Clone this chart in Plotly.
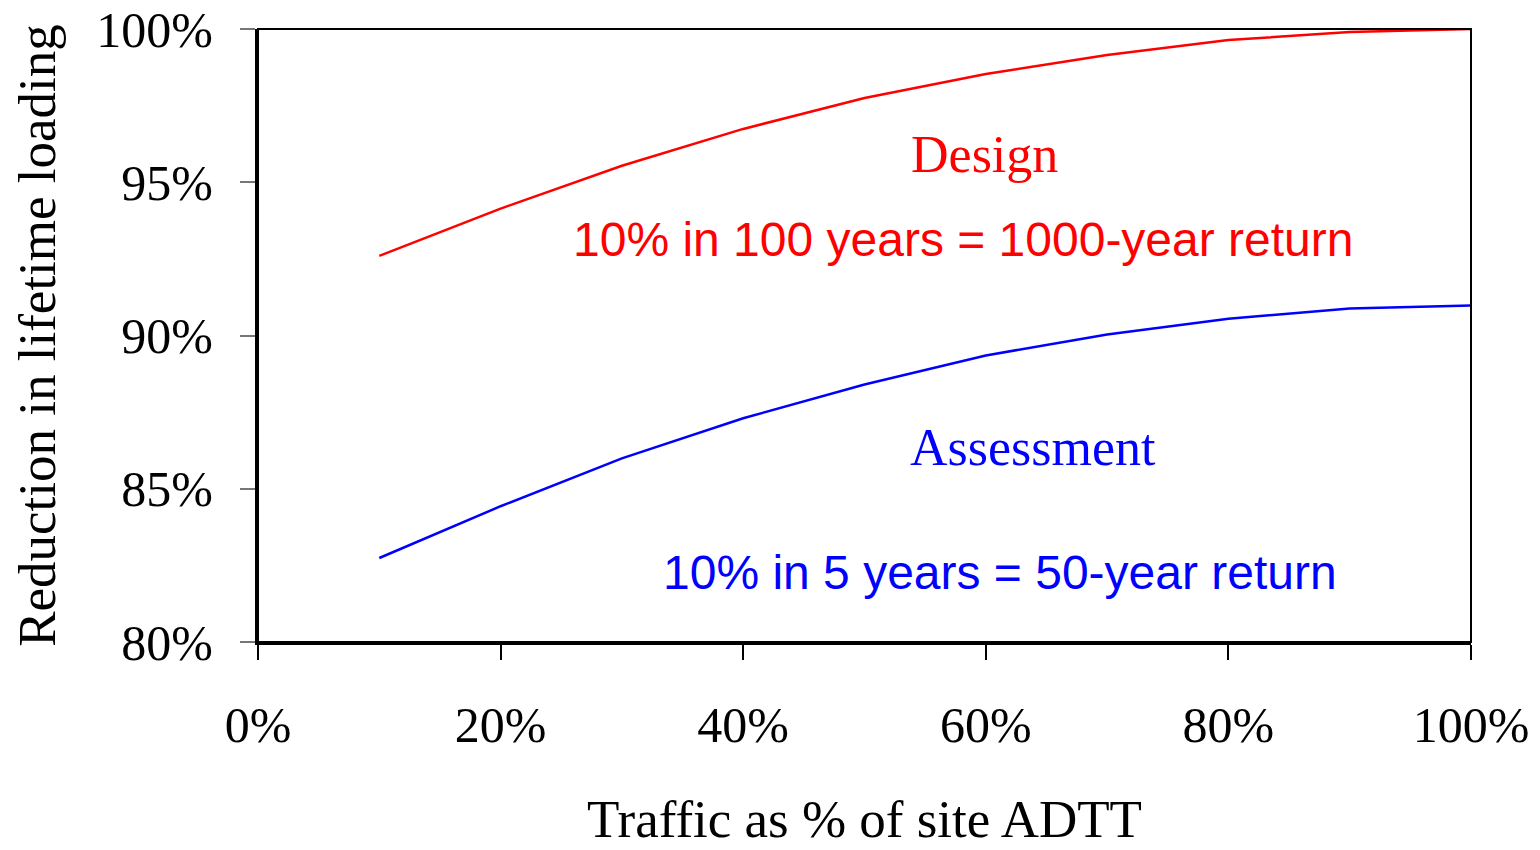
import plotly.graph_objects as go

traffic = [0.1, 0.2, 0.3, 0.4, 0.5, 0.6, 0.7, 0.8, 0.9, 1.0]
design = [0.926, 0.9414, 0.9554, 0.9674, 0.9775, 0.9853, 0.9915, 0.9964, 0.9990, 1.0000]
assessment = [0.8274, 0.8443, 0.8599, 0.8730, 0.8840, 0.8935, 0.9003, 0.9055, 0.9088, 0.9098]

x_ticks = [0, 0.2, 0.4, 0.6, 0.8, 1.0]
x_ticklabels = ["0%", "20%", "40%", "60%", "80%", "100%"]
y_ticks = [0.80, 0.85, 0.90, 0.95, 1.00]
y_ticklabels = ["80%", "85%", "90%", "95%", "100%"]

serif = "Liberation Serif, Times New Roman, serif"
sans = "Liberation Sans, Arial, sans-serif"

fig = go.Figure()
fig.add_trace(go.Scatter(x=traffic, y=design, mode="lines", line=dict(color="#ff0000", width=2.5),
                         name="Design", cliponaxis=False, showlegend=False))
fig.add_trace(go.Scatter(x=traffic, y=assessment, mode="lines", line=dict(color="#0000ff", width=2.5),
                         name="Assessment", cliponaxis=False, showlegend=False))

fig.add_shape(type="rect", xref="paper", yref="paper", x0=0, y0=0, x1=1, y1=1,
              line=dict(color="black", width=2), layer="above")

annots = [
    dict(x=0.599, y=0.9589, text="Design", font=dict(family=serif, size=52, color="#ff0000")),
    dict(x=0.581, y=0.9312, text="10% in 100 years = 1000-year return", font=dict(family=sans, size=48, color="#ff0000")),
    dict(x=0.639, y=0.8636, text="Assessment", font=dict(family=serif, size=52, color="#0000ff")),
    dict(x=0.612, y=0.8228, text="10% in 5 years = 50-year return", font=dict(family=sans, size=48, color="#0000ff")),
]
for a in annots:
    fig.add_annotation(xref="x", yref="y", showarrow=False, xanchor="center", yanchor="middle", **a)

fig.update_layout(
    width=1540, height=850,
    margin=dict(l=250, r=77, t=21, b=216),
    paper_bgcolor="white", plot_bgcolor="white",
    font=dict(family=serif, size=50, color="black"),
    xaxis=dict(range=[0, 1], tickvals=x_ticks, ticktext=x_ticklabels, automargin=False,
               showgrid=False, zeroline=False, showline=True, linecolor="black", linewidth=3,
               ticks="outside", ticklen=15, tickwidth=1.5, tickcolor="black",
               ticklabelstandoff=22, tickfont=dict(size=50), ticklabeloverflow="allow",
               title=dict(text="Traffic as % of site ADTT", font=dict(family=serif, size=53), standoff=48)),
    yaxis=dict(range=[0.8, 1.0], tickvals=y_ticks, ticktext=y_ticklabels, automargin=False,
               showgrid=False, zeroline=False, showline=True, linecolor="black", linewidth=3,
               ticks="outside", ticklen=15, tickwidth=1.5, tickcolor="#777777",
               ticklabelstandoff=17, tickfont=dict(size=50), ticklabeloverflow="allow",
               title=dict(text="Reduction in lifetime loading", font=dict(family=serif, size=53), standoff=28)),
)

fig.write_html("out.html")
